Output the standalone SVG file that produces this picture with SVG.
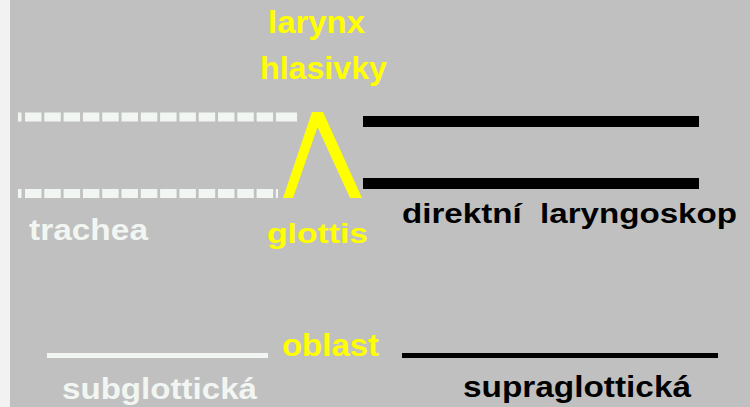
<svg xmlns="http://www.w3.org/2000/svg" width="750" height="407" viewBox="0 0 750 407">
  <style>
    text { font-family: "Liberation Sans", Arial, sans-serif; font-weight: bold; }
    .y { fill: #ffff00; }
    .w { fill: #f2f6f2; }
    .k { fill: #000000; }
    .dash { stroke: #f2f6f2; stroke-width: 9; stroke-dasharray: 16.5 2.8; }
    .wl { stroke: #f2f6f2; }
    .bl { stroke: #000000; }
  </style>
  <rect x="0" y="0" width="750" height="407" fill="#c0c0c0"/>
  <rect x="0" y="0" width="10" height="407" fill="#f2f2f2"/>

  <g id="trachea-walls">
    <rect x="18" y="112.5" width="3.5" height="9" fill="#f2f6f2"/>
    <line class="dash" x1="25" y1="117" x2="276" y2="117"/>
    <rect x="276" y="112.5" width="21" height="9" fill="#f2f6f2"/>
    <rect x="18" y="189" width="3.5" height="9" fill="#f2f6f2"/>
    <line class="dash" x1="25" y1="193.5" x2="278" y2="193.5"/>
  </g>

  <g id="glottis-shape">
    <polygon class="y" points="283,198 312,112 323,112 362,198 350,198 317.5,127 293,198"/>
  </g>

  <g id="laryngoscope">
    <line class="bl" x1="363" y1="121.5" x2="699" y2="121.5" stroke-width="11"/>
    <line class="bl" x1="363" y1="183.5" x2="699" y2="183.5" stroke-width="11"/>
  </g>

  <g id="region-lines">
    <line class="wl" x1="47" y1="355.5" x2="268" y2="355.5" stroke-width="5"/>
    <line class="bl" x1="402" y1="355.5" x2="718" y2="355.5" stroke-width="5"/>
  </g>

  <g id="labels">
    <text class="y" x="268" y="33" font-size="31" textLength="97" lengthAdjust="spacingAndGlyphs">larynx</text>
    <text class="y" x="260" y="79" font-size="31" textLength="127" lengthAdjust="spacingAndGlyphs">hlasivky</text>
    <text class="w" x="29" y="240" font-size="29" textLength="119" lengthAdjust="spacingAndGlyphs">trachea</text>
    <text class="y" x="267" y="243" font-size="28" textLength="101" lengthAdjust="spacingAndGlyphs">glottis</text>
    <text class="k" x="402" y="223" font-size="27" textLength="335" lengthAdjust="spacingAndGlyphs" xml:space="preserve">direktní  laryngoskop</text>
    <text class="y" x="282" y="356" font-size="31" textLength="97" lengthAdjust="spacingAndGlyphs">oblast</text>
    <text class="w" x="62" y="399" font-size="29" textLength="195" lengthAdjust="spacingAndGlyphs">subglottická</text>
    <text class="k" x="463" y="397" font-size="29" textLength="228" lengthAdjust="spacingAndGlyphs">supraglottická</text>
  </g>
</svg>
